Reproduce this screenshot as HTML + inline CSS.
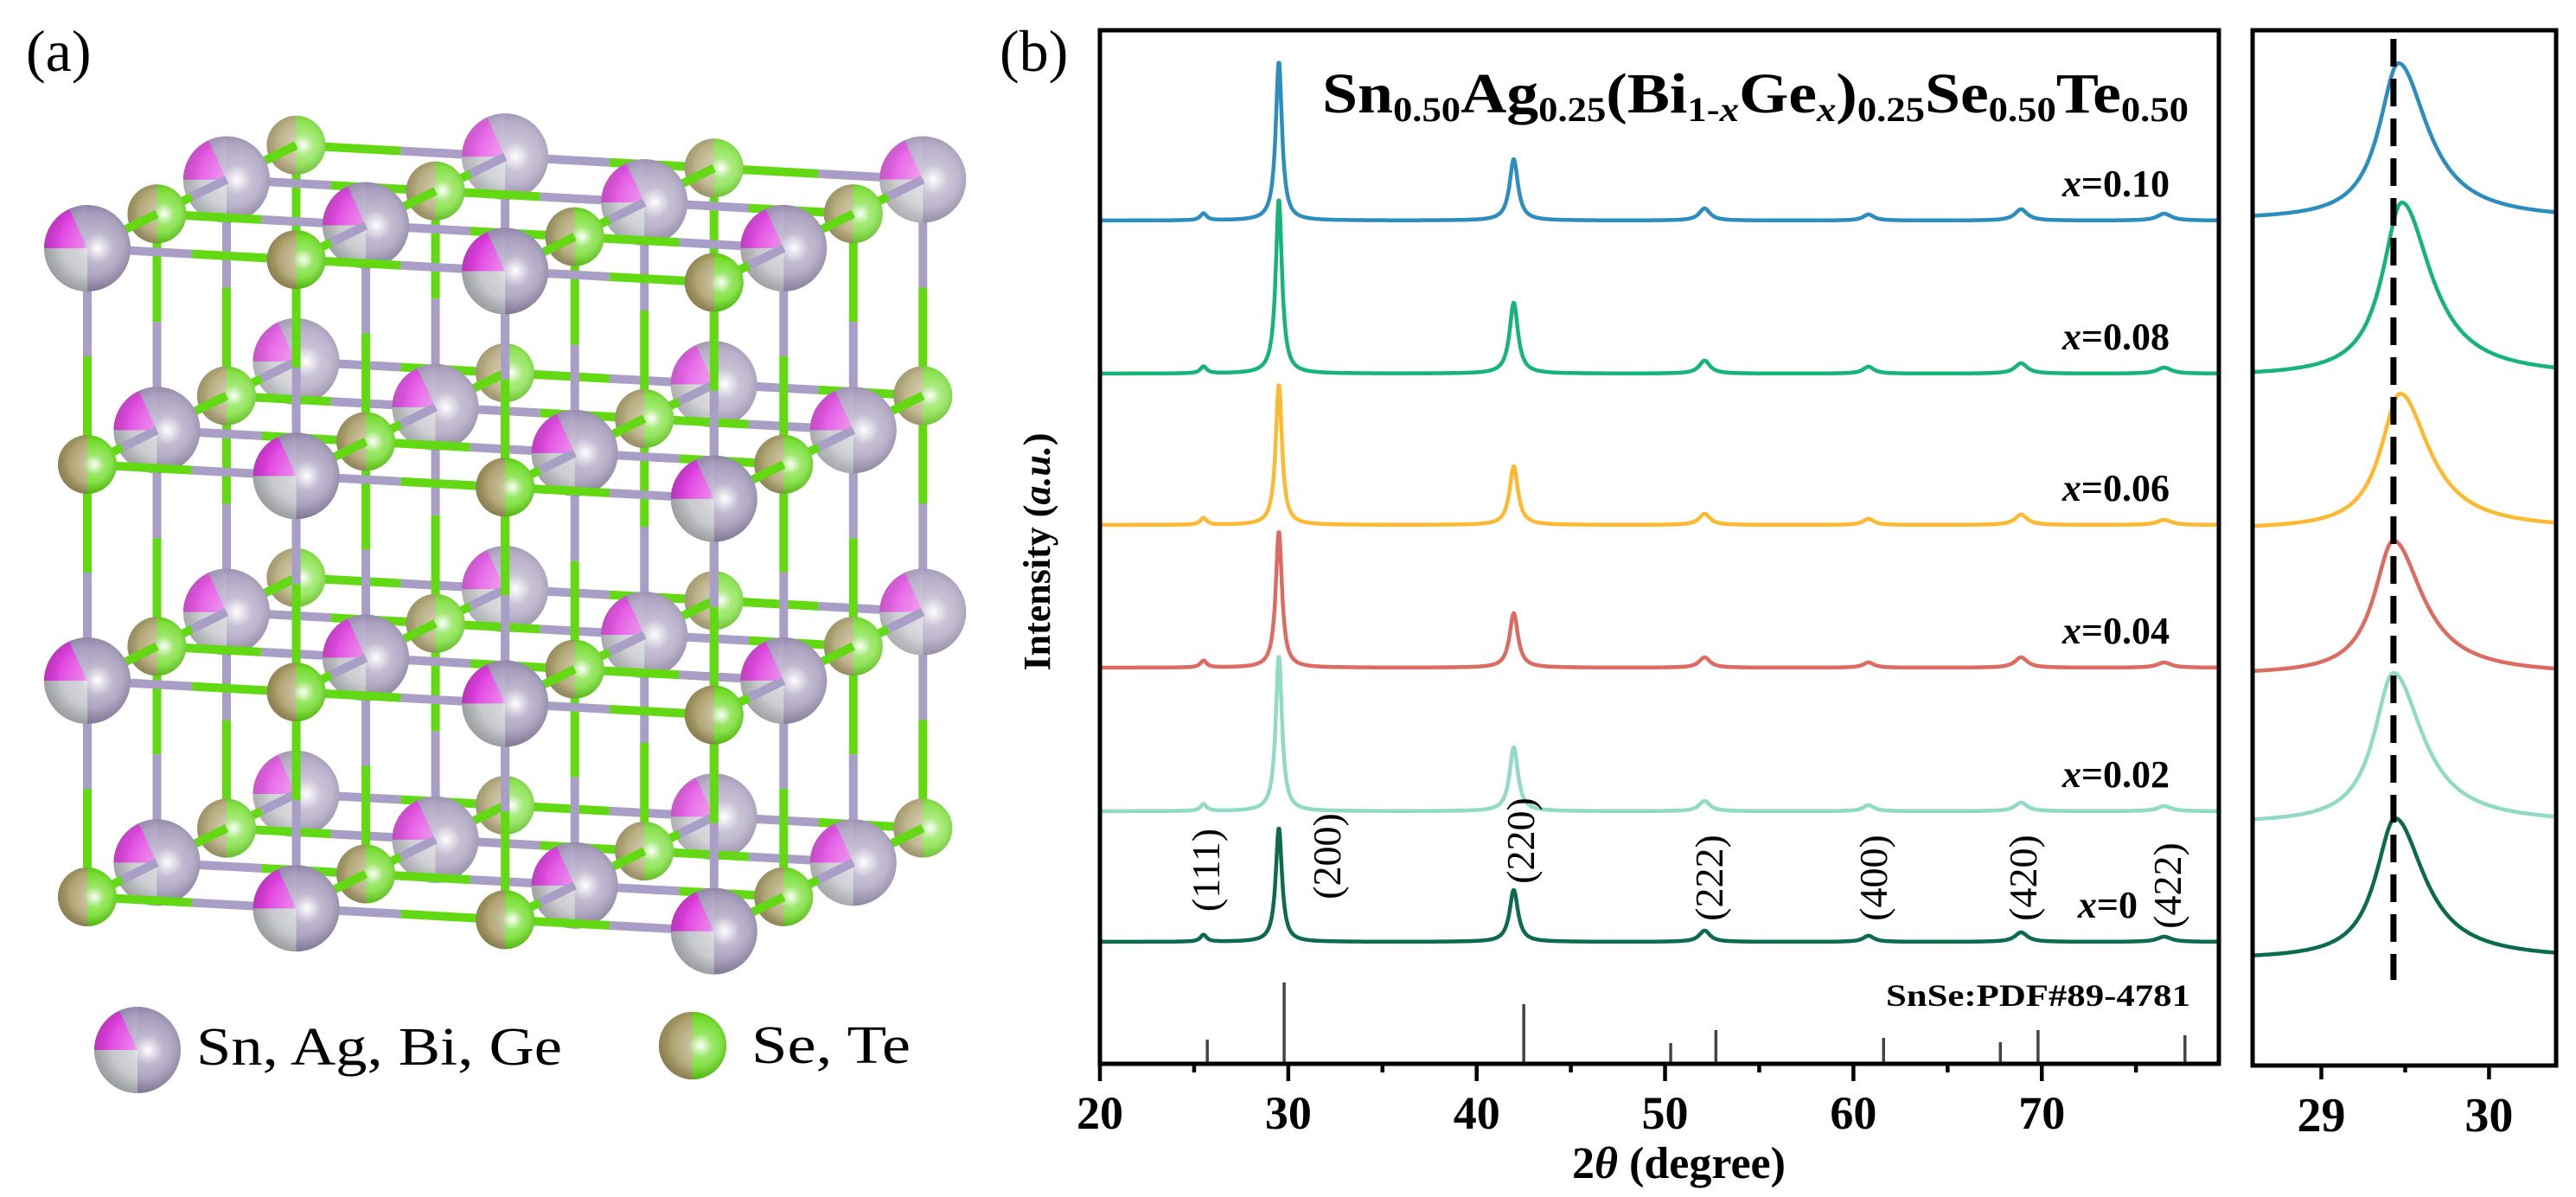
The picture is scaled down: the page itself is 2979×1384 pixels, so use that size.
<!DOCTYPE html>
<html><head><meta charset="utf-8">
<style>
html,body{margin:0;padding:0;background:#fff;}
svg{display:block;}
text{font-family:"Liberation Serif",serif;}
</style></head>
<body>
<svg id="fig" width="2979" height="1384" viewBox="0 0 2979 1384" xmlns="http://www.w3.org/2000/svg" font-family="Liberation Serif, serif">
<defs>
<radialGradient id="hl" cx="0.62" cy="0.5" r="0.5">
<stop offset="0" stop-color="#ffffff" stop-opacity="1"/>
<stop offset="0.35" stop-color="#ffffff" stop-opacity="0.35"/>
<stop offset="1" stop-color="#ffffff" stop-opacity="0"/>
</radialGradient>
<radialGradient id="shade" cx="0.55" cy="0.45" r="0.6">
<stop offset="0.6" stop-color="#000" stop-opacity="0"/>
<stop offset="1" stop-color="#000" stop-opacity="0.22"/>
</radialGradient>
</defs>
<g id="crystal"></g>
<text x="30" y="82" font-size="68" font-family="Liberation Serif, serif">(a)</text>
<text x="1156" y="82" font-size="68" font-family="Liberation Serif, serif">(b)</text>
<g id="legendA"></g>
<text x="227" y="1231" font-size="62" font-family="Liberation Serif, serif" textLength="423" lengthAdjust="spacingAndGlyphs">Sn, Ag, Bi, Ge</text>
<text x="869" y="1229" font-size="62" font-family="Liberation Serif, serif" textLength="184" lengthAdjust="spacingAndGlyphs">Se, Te</text>
<g id="main"></g>
<g id="zoomp"></g>
</svg>
<script>
// ---------- chart data ----------
const seriesNames = ["x=0.10","x=0.08","x=0.06","x=0.04","x=0.02","x=0"];
const seriesColors = ["#2c8dbf","#17b47a","#fdb931","#dc6b62","#90dac6","#0b6a50"];
const peakPositions = [25.5, 29.5, 41.97, 52.1, 60.8, 68.9, 76.5];
const peakWidths = [0.2, 0.2, 0.27, 0.35, 0.35, 0.4, 0.45];
const peakHeights = [
  [8,184,71,14,7,13,8],
  [8,202,82,15,8,12,7],
  [8,163,68,13,7,12,6],
  [8,158,63,12,6,12,6],
  [8,180,74,12,7,10,6],
  [8,132,60,13,7,11,6]
];
const seriesOffsets = [975,798,623,458,292,141];
const hklLabels = ["(111)","(200)","(220)","(222)","(400)","(420)","(422)"];
const refPositions = [25.7,29.78,42.5,50.3,52.7,61.6,67.8,69.8,77.6];
const refIntensities = [28,94,69,24,39,30,25,39,33];
const xTicks = [20,30,40,50,60,70];
const zoomPeakPos = [29.46,29.48,29.47,29.43,29.43,29.44];
const zoomPeakHeights = [181,201,157,155,174,163];
const zoomOffsets = [978,797,620,452,280,123];
const zoomTicks = [29,30];
const dashedPos = 29.43;

const NS="http://www.w3.org/2000/svg";
const FF="Liberation Serif, serif";
function mk(tag, parent, attrs){const e=document.createElementNS(NS,tag);for(const k in attrs)e.setAttribute(k,attrs[k]);if(tag==='text')e.setAttribute('font-family',FF);parent.appendChild(e);return e;}

// ---------- main chart ----------
const M={l:1272,r:2566,t:35,b:1230,x0:20,x1:79.4};
const X=v=>M.l+(v-M.x0)/(M.x1-M.x0)*(M.r-M.l);
const Y=v=>M.b-v;
const main=document.getElementById('main');
function lor(x,x0,g){const d=(x-x0)/g;return 1/(1+d*d);}
seriesNames.forEach((nm,s)=>{
  let d="";
  for(let v=M.x0; v<=M.x1+1e-9; v+=0.04){
    let val=seriesOffsets[s];
    peakPositions.forEach((p,i)=>{val+=peakHeights[s][i]*lor(v,p,peakWidths[i]);});
    d+=(d?"L":"M")+X(v).toFixed(1)+","+Y(val).toFixed(1);
  }
  const p=mk('path',main,{d:d,fill:"none",stroke:seriesColors[s],"stroke-width":4.5,"stroke-linejoin":"round"});
  
  
  const lx = (s===seriesNames.length-1) ? 2472 : 2509;
  const lbl=mk('text',main,{x:lx,y:Y(seriesOffsets[s])-28,"font-size":44,"font-weight":"bold","text-anchor":"end"});
  
  
  const parts=nm.split('=');
  const t1=mk('tspan',lbl,{"font-style":"italic"});t1.textContent=parts[0];
  const t2=mk('tspan',lbl,{});t2.textContent="="+parts[1];
});
// reference sticks
refPositions.forEach((p,i)=>{
  const l=mk('line',main,{x1:X(p),x2:X(p),y1:M.b,y2:M.b-refIntensities[i],stroke:"#444","stroke-width":3.5});
  
  
});
// hkl labels
const hklXY=[[1395,1006],[1535,990],[1759,972],[1977,1015],[2167,1015],[2340,1015],[2507,1024]];
hklLabels.forEach((h,i)=>{
  const t=mk('text',main,{x:0,y:0,"font-size":46,"text-anchor":"middle",transform:`translate(${hklXY[i][0]+15},${hklXY[i][1]}) rotate(-90)`});
  
  
  t.textContent=h;
});
// frame
const fr=mk('rect',main,{x:M.l,y:M.t,width:M.r-M.l,height:M.b-M.t,fill:"none",stroke:"#000","stroke-width":5});


for(let v=20; v<=79; v+=5){
  const major=(v%10===0);
  const tk=mk('line',main,{x1:X(v),x2:X(v),y1:M.b,y2:M.b+(major?20:10),stroke:"#000","stroke-width":4.5});
  
  
}
xTicks.forEach(v=>{
  const t=mk('text',main,{x:X(v),y:1305,"font-size":54,"font-weight":"bold","text-anchor":"middle"});
  
  
  t.textContent=v;
});
{
  const t=mk('text',main,{x:1818,y:1362,"font-size":52,"font-weight":"bold"});
  
  
  const a=mk('tspan',t,{});a.textContent="2";
  const b=mk('tspan',t,{"font-style":"italic"});b.textContent="θ";
  const c=mk('tspan',t,{});c.textContent=" (degree)";
  const yt=mk('text',main,{x:0,y:0,"font-size":44,"font-weight":"bold","text-anchor":"middle",transform:"translate(1214,638) rotate(-90)"});
  
  
  const y1=mk('tspan',yt,{});y1.textContent="Intensity (";
  const y2=mk('tspan',yt,{"font-style":"italic"});y2.textContent="a.u.";
  const y3=mk('tspan',yt,{});y3.textContent=")";
  const sn=mk('text',main,{x:2181,y:1163,"font-size":36,"font-weight":"bold",textLength:352,lengthAdjust:"spacingAndGlyphs"});
  
  
  sn.textContent="SnSe:PDF#89-4781";
  // title
  const ti=mk('text',main,{x:1529,y:130,"font-size":66,"font-weight":"bold",textLength:1002,lengthAdjust:"spacingAndGlyphs"});
  
  
  const segs=[["Sn",0],["0.50",1],["Ag",0],["0.25",1],["(Bi",0],["1-",1],["x",3],["Ge",0],["x",3],[")",0],["0.25",1],["Se",0],["0.50",1],["Te",0],["0.50",1]];
  let prevSub=false;
  segs.forEach(([s,k])=>{
    const sub=(k===1||k===3);
    const a={};
    if(sub&&!prevSub)a.dy=10; if(!sub&&prevSub)a.dy=-10;
    if(sub)a["font-size"]=40;
    if(k===3)a["font-style"]="italic";
    const tsp=mk('tspan',ti,a);tsp.textContent=s;prevSub=sub;
  });
}

// ---------- zoom panel ----------
const Z={l:2605,r:2956,t:35,b:1232,x0:28.59,x1:30.4};
const ZX=v=>Z.l+(v-Z.x0)/(Z.x1-Z.x0)*(Z.r-Z.l);
const ZY=v=>Z.b-v;
const zp=document.getElementById('zoomp');
seriesNames.forEach((nm,s)=>{
  let d="";
  for(let v=Z.x0; v<=Z.x1+1e-9; v+=0.01){
    const g=v<zoomPeakPos[s]?0.14:0.21;
    const val=zoomOffsets[s]+zoomPeakHeights[s]*lor(v,zoomPeakPos[s],g);
    d+=(d?"L":"M")+ZX(v).toFixed(1)+","+ZY(val).toFixed(1);
  }
  const p=mk('path',zp,{d:d,fill:"none",stroke:seriesColors[s],"stroke-width":4.5,"stroke-linejoin":"round"});
  
  
});
{
  const dl=mk('line',zp,{x1:ZX(dashedPos),x2:ZX(dashedPos),y1:45,y2:1133,stroke:"#000","stroke-width":7,"stroke-dasharray":"32 14"});
  
  
  const zf=mk('rect',zp,{x:Z.l,y:Z.t,width:Z.r-Z.l,height:Z.b-Z.t,fill:"none",stroke:"#000","stroke-width":5});
  
  
  [29,29.5,30].forEach(v=>{
    const tk=mk('line',zp,{x1:ZX(v),x2:ZX(v),y1:Z.b,y2:Z.b+(v%1===0?16:8),stroke:"#000","stroke-width":4.5});
    
    
  });
  zoomTicks.forEach(v=>{
    const t=mk('text',zp,{x:ZX(v),y:1308,"font-size":56,"font-weight":"bold","text-anchor":"middle"});
    
    
    t.textContent=v;
  });
}

// ---------- crystal ----------
const cg=document.getElementById('crystal');
const P=(i,j,k)=>[101+241.6*i+80.5*k, 287+250*j+13.2*i-39.7*k];
const PURP="#a99ec6", GRN="#62d913";
const isCat=(i,j,k)=>(i+j+k)%2===0;
function rod(a,b){
  const pa=P(...a),pb=P(...b);
  const mx=(pa[0]+pb[0])/2,my=(pa[1]+pb[1])/2;
  mk('line',cg,{x1:pa[0],y1:pa[1],x2:mx,y2:my,stroke:isCat(...a)?PURP:GRN,"stroke-width":10});
  mk('line',cg,{x1:mx,y1:my,x2:pb[0],y2:pb[1],stroke:isCat(...b)?PURP:GRN,"stroke-width":10});
}
function sphere(cx,cy,cat,fade,parent){
  const g=mk('g',parent,{opacity:1});
  if(cat){
    const r=50;
    mk('circle',g,{cx:cx,cy:cy,r:r,fill:"#9b90b3"});
    mk('path',g,{d:`M${cx},${cy} L${cx-r},${cy} A${r},${r} 0 0 0 ${cx},${cy+r} Z`,fill:"#bfc2c6"});
    mk('path',g,{d:`M${cx},${cy} L${cx},${cy-r} A${r},${r} 0 0 0 ${cx-r},${cy} Z`,fill:"#a496bc"});
    mk('path',g,{d:`M${cx},${cy} L${cx-r*0.42},${cy-r*0.9} A${r},${r} 0 0 0 ${cx-r},${cy} Z`,fill:"#e03fe0"});
    mk('circle',g,{cx:cx,cy:cy,r:r,fill:"url(#hl)"});
    mk('circle',g,{cx:cx,cy:cy,r:r,fill:"url(#shade)"});
  } else {
    const r=34;
    mk('circle',g,{cx:cx,cy:cy,r:r,fill:GRN});
    mk('path',g,{d:`M${cx},${cy-r} A${r},${r} 0 0 0 ${cx},${cy+r} Z`,fill:"#a99c66"});
    mk('circle',g,{cx:cx,cy:cy,r:r,fill:"url(#hl)"});
    mk('circle',g,{cx:cx,cy:cy,r:r,fill:"url(#shade)"});
  }
  if(fade>0) mk('circle',g,{cx:cx,cy:cy,r:cat?50:34,fill:"#fff",opacity:fade});
  return g;
}
for(let k=3;k>=0;k--){
  for(let i=0;i<4;i++)for(let j=0;j<4;j++){
    if(k<3) rod([i,j,k],[i,j,k+1]);
    if(i<3) rod([i,j,k],[i+1,j,k]);
    if(j<3) rod([i,j,k],[i,j+1,k]);
  }
  for(let j=0;j<4;j++)for(let i=0;i<4;i++){
    const [x,y]=P(i,j,k);
    const g=sphere(x,y,isCat(i,j,k),k*0.06,cg);
    
    
  }
}
// legend spheres
const lg=document.getElementById('legendA');
const ls1=sphere(159,1214,true,0,lg);


const ls2=sphere(801,1209,false,0,lg);
ls2.setAttribute('transform','translate(801,1209) scale(1.15) translate(-801,-1209)');


</script>
</body></html>
